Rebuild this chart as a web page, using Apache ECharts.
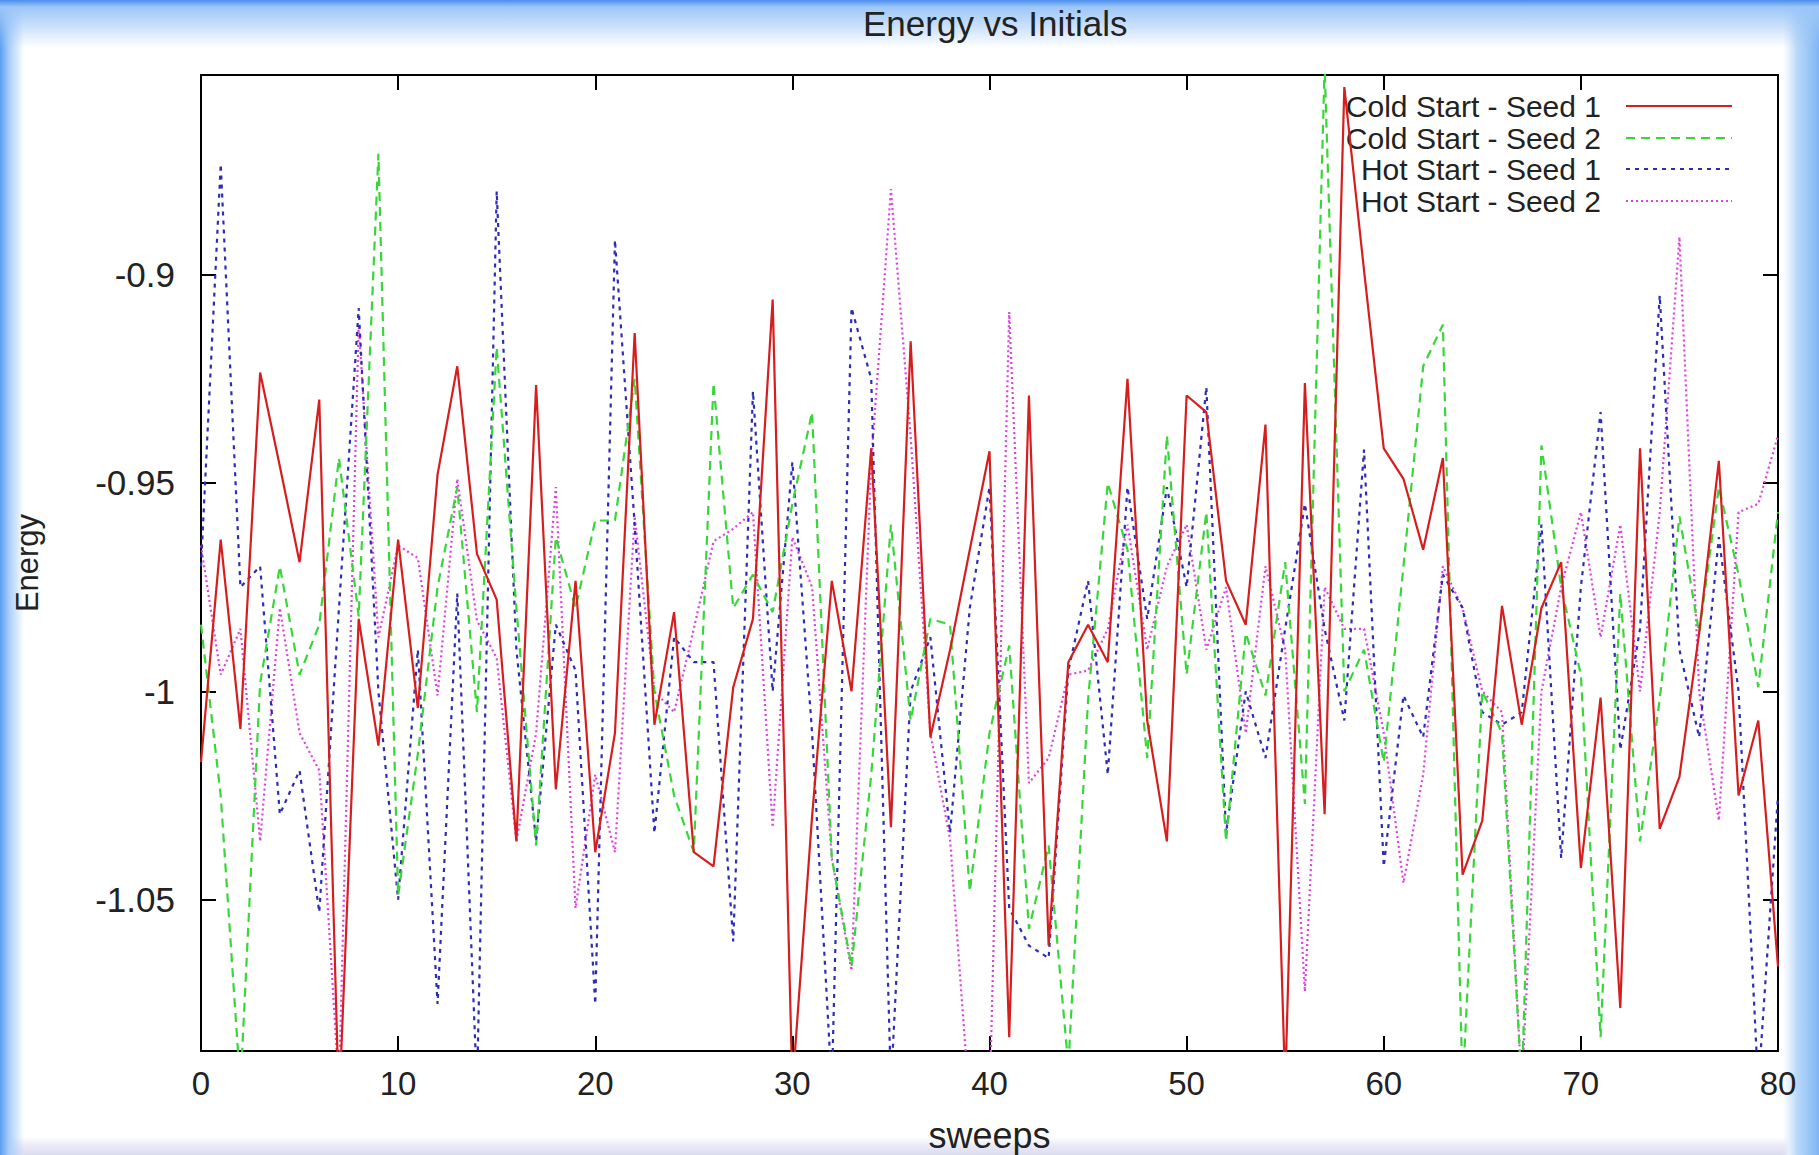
<!DOCTYPE html>
<html>
<head>
<meta charset="utf-8">
<script src="https://cdn.jsdelivr.net/npm/echarts@6/dist/echarts.min.js"></script>
<style>
  html, body { margin: 0; padding: 0; }
  body {
    width: 1819px; height: 1155px; overflow: hidden;
    background:
      linear-gradient(to bottom, #4c8fec 0px, #9cc6f7 7px, rgba(255,255,255,0) 48px),
      linear-gradient(to right, #5a9ef0 0px, #a9cdf9 9px, rgba(255,255,255,0) 24px),
      linear-gradient(to left, #7fb5f3 0px, #b9d9fa 22px, #e6f1fd 30px, rgba(255,255,255,0) 36px),
      linear-gradient(to top, #dcdcef 0px, #ebebf6 10px, rgba(255,255,255,0) 18px),
      #ffffff;
  }
  #chart { width: 1819px; height: 1155px; }
</style>
</head>
<body>
<div id="chart"></div>
<script>
// ---- data ----
const sweeps = [0,1,2,3,4,5,6,7,8,9,10,11,12,13,14,15,16,17,18,19,20,21,22,23,24,25,26,27,28,29,30,31,32,33,34,35,36,37,38,39,40,41,42,43,44,45,46,47,48,49,50,51,52,53,54,55,56,57,58,59,60,61,62,63,64,65,66,67,68,69,70,71,72,73,74,75,76,77,78,79,80];

const coldSeed1 = [-1.017,-0.9636,-1.009,-0.9235,-0.946,-0.969,-0.930,-1.10,-0.9826,-1.013,
  -0.9636,-1.004,-0.948,-0.922,-0.967,-0.978,-1.036,-0.9265,-1.0235,-0.9735,
  -1.0386,-1.01,-0.914,-1.008,-0.981,-1.0386,-1.042,-0.999,-0.9826,-0.906,
  -1.095,-1.03,-0.9735,-1.0,-0.9417,-1.0326,-0.916,-1.011,-0.99,-0.966,
  -0.9424,-1.083,-0.929,-1.061,-0.993,-0.984,-0.993,-0.925,-1.007,-1.036,
  -0.929,-0.933,-0.9735,-0.984,-0.936,-1.095,-0.926,-1.0295,-0.855,-0.899,
  -0.9417,-0.949,-0.966,-0.944,-1.044,-1.031,-0.9795,-1.008,-0.98,-0.969,
  -1.0424,-1.0015,-1.076,-0.9417,-1.033,-1.0205,-0.986,-0.9447,-1.025,-1.007,-1.066];

const coldSeed2 = [-0.984,-1.025,-1.095,-0.998,-0.970,-0.996,-0.984,-0.944,-0.982,-0.871,
  -1.049,-1.015,-0.975,-0.951,-1.005,-0.9174,-0.98,-1.037,-0.963,-0.98,
  -0.959,-0.959,-0.925,-1.0,-1.025,-1.0386,-0.926,-0.98,-0.972,-0.981,
  -0.955,-0.933,-1.04,-1.066,-1.02,-0.96,-1.007,-0.9826,-0.984,-1.048,
  -1.01,-0.989,-1.057,-1.037,-1.09,-1.002,-0.95,-0.966,-1.016,-0.9386,
  -0.996,-0.957,-1.036,-0.986,-1.001,-0.969,-1.027,-0.85,-1.0,-0.99,
  -1.017,-0.97,-0.922,-0.912,-1.095,-1.0,-1.01,-1.095,-0.941,-0.975,
  -0.996,-1.083,-0.9765,-1.036,-1.002,-0.958,-0.986,-0.951,-0.972,-0.999,-0.957];

const hotSeed1 = [-0.97,-0.8735,-0.975,-0.970,-1.0295,-1.019,-1.053,-0.98,-0.908,-1.0,
  -1.05,-0.990,-1.075,-0.9765,-1.095,-0.880,-0.99,-1.036,-0.984,-0.995,
  -1.075,-0.8917,-0.96,-1.034,-0.987,-0.993,-0.993,-1.060,-0.928,-1.0,
  -0.945,-1.01,-1.095,-0.908,-0.925,-1.095,-1.0,-0.987,-1.034,-0.98,
  -0.951,-1.052,-1.061,-1.064,-0.995,-0.9735,-1.020,-0.951,-0.9826,-0.951,
  -0.975,-0.927,-1.034,-1.0,-1.016,-0.985,-0.955,-0.985,-1.007,-0.942,
  -1.042,-1.001,-1.011,-0.972,-0.98,-1.005,-1.008,-1.005,-0.96,-1.04,
  -0.975,-0.933,-1.014,-0.985,-0.905,-0.99,-1.011,-0.963,-1.0,-1.095,-1.025];

const hotSeed2 = [-0.965,-0.996,-0.985,-1.036,-0.98,-1.01,-1.019,-1.095,-0.912,-0.987,
  -0.965,-0.968,-1.001,-0.949,-0.983,-0.992,-1.036,-1.01,-0.951,-1.052,
  -1.02,-1.0386,-0.958,-1.0,-1.005,-0.985,-0.964,-0.961,-0.957,-1.0326,
  -0.963,-0.975,-1.04,-1.067,-0.945,-0.8795,-0.9388,-1.01,-1.0356,-1.10,
  -1.10,-0.909,-1.022,-1.016,-0.996,-0.995,-0.985,-0.96,-0.99,-0.97,
  -0.96,-0.99,-0.975,-1.01,-0.97,-0.99,-1.072,-0.975,-0.985,-0.985,
  -1.01,-1.046,-1.02,-0.97,-0.98,-1.0,-1.005,-1.095,-1.0,-0.975,
  -0.957,-0.987,-0.96,-1.0,-0.957,-0.891,-1.0,-1.031,-0.957,-0.955,-0.9386];

const seriesNames = ['Cold Start - Seed 1', 'Cold Start - Seed 2', 'Hot Start - Seed 1', 'Hot Start - Seed 2'];
const yTickValues = [-1.05, -1, -0.95, -0.9];
const xTickInterval = 10;
const titleText = 'Energy vs Initials';
const xAxisName = 'sweeps';
const yAxisName = 'Energy';

// ---- chart ----
const FONT = '"Liberation Sans", Arial, Helvetica, sans-serif';
const chart = echarts.init(document.getElementById('chart'), null, { renderer: 'svg' });

const seriesValues = [coldSeed1, coldSeed2, hotSeed1, hotSeed2];
const seriesStyles = [
  { color: '#d61e1e', type: 'solid' },
  { color: '#38d638', type: [9, 6] },
  { color: '#2c2cb4', type: [4, 5] },
  { color: '#e040e0', type: [2, 3] }
];

const tickCommon = { show: true, inside: true, length: 15, lineStyle: { color: '#000', width: 2 } };
const lineCommon = { show: true, onZero: false, lineStyle: { color: '#000', width: 2 } };
const yMin = -1.0863, yMax = -0.8521;

const legendCenters = [105, 137, 168, 200];

const option = {
  animation: false,
  backgroundColor: 'transparent',
  title: {
    text: titleText,
    left: 858, top: 1,
    textStyle: { fontFamily: FONT, fontSize: 35, fontWeight: 'normal', color: '#222' }
  },
  legend: seriesNames.map((n, i) => ({
    data: [n],
    orient: 'horizontal',
    align: 'right',
    right: 86,
    top: legendCenters[i] - 14,
    padding: 0,
    itemWidth: 106,
    itemHeight: 14,
    selectedMode: false,
    itemStyle: { opacity: 0 },
    textStyle: { fontFamily: FONT, fontSize: 30, lineHeight: 28, color: '#222', padding: [0, 20, 0, 0] }
  })),
  grid: { left: 201, top: 75, right: 41, bottom: 104, containLabel: false, outerBoundsMode: 'none' },
  xAxis: [
    {
      type: 'value', min: 0, max: 80, interval: xTickInterval, position: 'bottom',
      name: xAxisName, nameLocation: 'middle', nameGap: 66,
      nameTextStyle: { fontFamily: FONT, fontSize: 36, color: '#222' },
      axisLine: lineCommon, axisTick: tickCommon,
      axisLabel: { fontFamily: FONT, fontSize: 33, color: '#222', margin: 16 },
      splitLine: { show: false }
    },
    {
      type: 'value', min: 0, max: 80, interval: xTickInterval, position: 'top',
      axisLine: lineCommon, axisTick: tickCommon,
      axisLabel: { show: false }, splitLine: { show: false }
    }
  ],
  yAxis: [
    {
      type: 'value', min: yMin, max: yMax, position: 'left',
      name: yAxisName, nameLocation: 'middle', nameRotate: 90, nameGap: 158,
      nameTextStyle: { fontFamily: FONT, fontSize: 31, color: '#222' },
      axisLine: lineCommon,
      axisTick: Object.assign({}, tickCommon, { customValues: yTickValues }),
      axisLabel: {
        fontFamily: FONT, fontSize: 35, color: '#222', margin: 26,
        customValues: yTickValues,
        formatter: v => String(+(+v).toFixed(2))
      },
      splitLine: { show: false }
    },
    {
      type: 'value', min: yMin, max: yMax, position: 'right',
      axisLine: lineCommon,
      axisTick: Object.assign({}, tickCommon, { customValues: yTickValues }),
      axisLabel: { show: false }, splitLine: { show: false }
    }
  ],
  series: seriesNames.map((n, i) => ({
    name: n,
    type: 'line',
    xAxisIndex: 0, yAxisIndex: 0,
    symbol: 'none',
    clip: true,
    color: seriesStyles[i].color,
    lineStyle: { color: seriesStyles[i].color, width: 2.2, type: seriesStyles[i].type },
    data: sweeps.map((x, k) => [x, seriesValues[i][k]]),
    z: 10 - i
  }))
};
chart.setOption(option);
</script>
</body>
</html>
